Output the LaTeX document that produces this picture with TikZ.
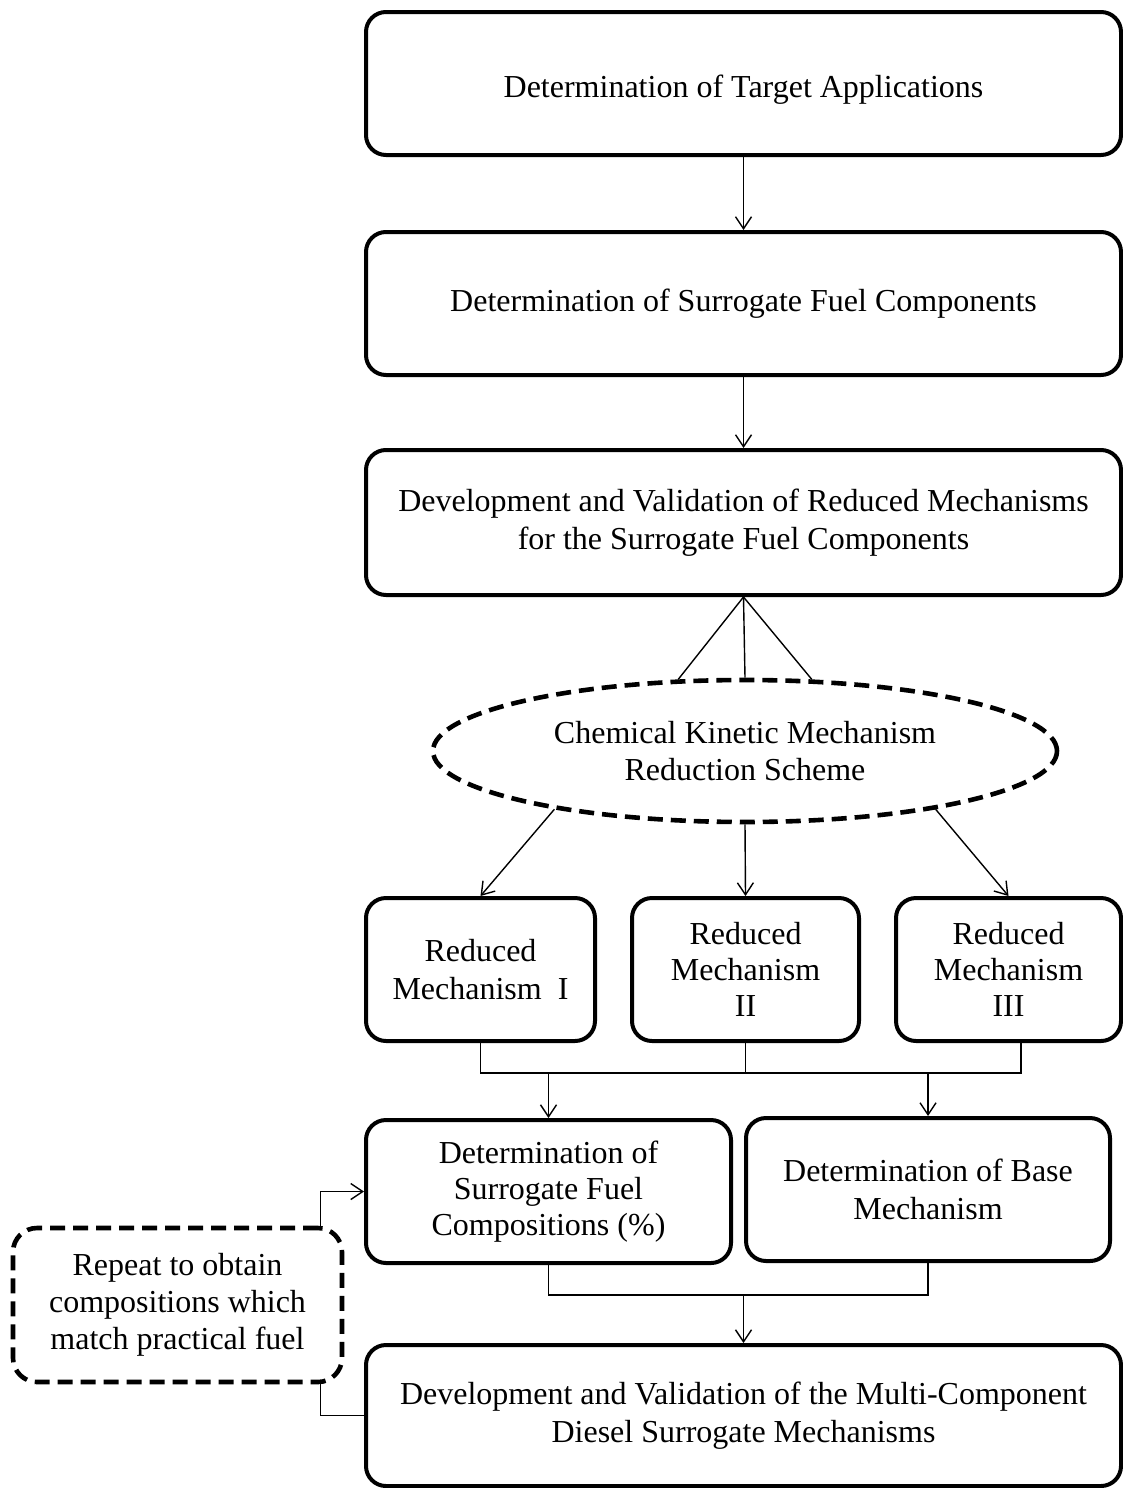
\documentclass[tikz,border=0pt]{standalone}
\usepackage{fontspec}
\setmainfont{Liberation Serif}
\usetikzlibrary{shapes.geometric,arrows.meta}
\begin{document}
\begin{tikzpicture}[x=0.5pt,y=-0.5pt,
  box/.style={draw, line width=2pt, rounded corners=10pt, align=center, inner sep=0pt,
    font=\fontsize{16}{18.8}\selectfont},
  arr/.style={-{Straight Barb[length=6pt,width=8pt]}, line width=0.7pt},
  ln/.style={line width=0.7pt},
  dsh/.style={line width=2.3pt, dash pattern=on 7.5pt off 4pt}]
\useasboundingbox (0,0) rectangle (1123,1488);
\node[box, minimum width=377.5pt, minimum height=71.5pt] (t1) at (743.5,83.5) {\raisebox{-3pt}[\height][\depth]{Determination of Target Applications}};
\node[box, minimum width=377.5pt, minimum height=71.5pt] (t2) at (743.5,303.5) {Determination of Surrogate Fuel Components};
\node[box, minimum width=377.5pt, minimum height=72.5pt] (t3) at (743.5,522.5) {Development and Validation of Reduced Mechanisms\\for the Surrogate Fuel Components};
\node[ellipse, draw, dsh, minimum width=312pt, minimum height=71pt, inner sep=0pt, align=center,
  font=\fontsize{16}{18.8}\selectfont] (ell) at (745,751) {Chemical Kinetic Mechanism\\Reduction Scheme};
\node[box, minimum width=114.5pt, minimum height=71.5pt] (r1) at (480.5,969.5) {Reduced\\Mechanism\ \ I};
\node[box, minimum width=113.5pt, minimum height=71.5pt, font=\fontsize{16}{18}\selectfont] (r2) at (745.5,969.5) {Reduced\\Mechanism\\II};
\node[box, minimum width=112.5pt, minimum height=71.5pt, font=\fontsize{16}{18}\selectfont] (r3) at (1008.5,969.5) {Reduced\\Mechanism\\III};
\node[box, minimum width=182.5pt, minimum height=71.5pt, font=\fontsize{16}{18}\selectfont] (d1) at (548.5,1191.5) {Determination of\\Surrogate Fuel\\Compositions (\%)};
\node[box, minimum width=182pt, minimum height=71.5pt] (d2) at (928,1189.5) {Determination of Base\\Mechanism};
\node[box, minimum width=377.5pt, minimum height=70.5pt] (dv) at (743.5,1415.5) {Development and Validation of the Multi-Component\\Diesel Surrogate Mechanisms};
\node[draw, dsh, rounded corners=12pt, minimum width=164.5pt, minimum height=77pt, inner sep=0pt, align=center,
  font=\fontsize{16}{18.5}\selectfont] (rep) at (177.5,1305) {Repeat to obtain\\compositions which\\match practical fuel};
% connectors
\draw[arr] (t1.south) -- (t2.north);
\draw[arr] (t2.south) -- (t3.north);
\draw[ln] (t3.south) -- (ell.133);
\draw[ln] (t3.south) -- (ell.north);
\draw[ln] (t3.south) -- (ell.47);
\draw[arr] (ell.197) -- (r1.north);
\draw[arr] (ell.south) -- (r2.north);
\draw[arr] (ell.343) -- (r3.north);
\coordinate (bus1) at (0,1073);
\coordinate (r3drop) at (1021,0);
\draw[ln] (r1.south) -- (r1.south |- bus1) -- (r3drop |- bus1) -- (r3drop |- r3.south);
\draw[ln] (r2.south) -- (r2.south |- bus1);
\draw[arr] (d1.north |- bus1) -- (d1.north);
\draw[arr] (d2.north |- bus1) -- (d2.north);
\coordinate (bus2) at (0,1295);
\draw[ln] (d1.south) -- (d1.south |- bus2) -- (d2.south |- bus2) -- (d2.south);
\draw[arr] (dv.north |- bus2) -- (dv.north);
\draw[arr] ([xshift=-12pt]rep.north east) |- (d1.west);
\draw[ln] ([xshift=-12pt]rep.south east) |- (dv.west);
\end{tikzpicture}
\end{document}
